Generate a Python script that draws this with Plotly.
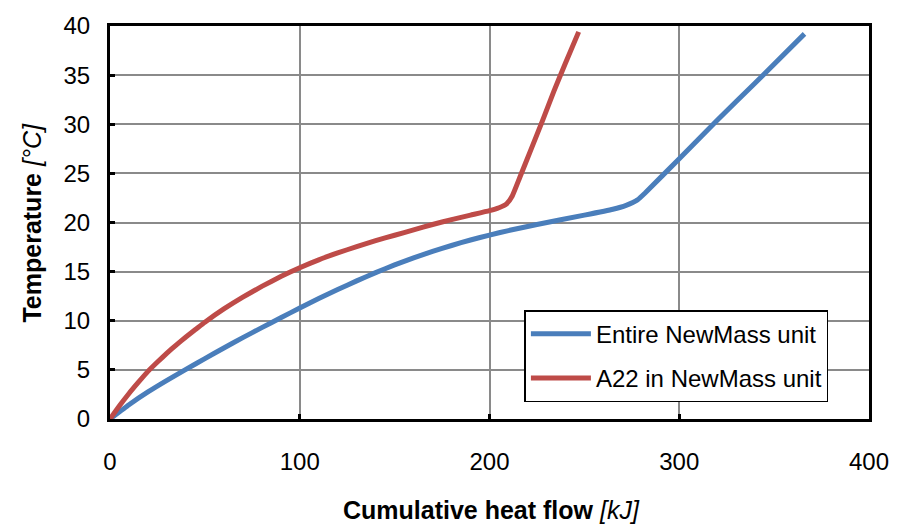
import plotly.graph_objects as go

# Entire NewMass unit (blue)
blue_x = [0, 10, 20, 30, 40, 50, 60, 70, 80, 90, 100, 110, 120, 130, 140, 150, 160, 170, 180, 190,
          200, 210, 225, 250, 265, 272, 278, 282, 300, 320, 340, 366]
blue_y = [0, 1.45, 2.75, 3.93, 5.05, 6.15, 7.23, 8.28, 9.3, 10.3, 11.3, 12.26, 13.18, 14.06, 14.9, 15.68,
          16.4, 17.06, 17.66, 18.22, 18.72, 19.18, 19.8, 20.75, 21.35, 21.75, 22.3, 23.0, 26.5, 30.4, 34.2, 39.2]

# A22 in NewMass unit (red)
red_x = [0, 5, 10, 15, 20, 25, 30, 35, 40, 45, 50, 60, 70, 80, 90, 100, 110, 120, 130, 140, 150,
         160, 170, 180, 190, 200, 205, 209, 212, 216, 222, 228, 234, 240, 247]
red_y = [0, 1.35, 2.6, 3.75, 4.85, 5.8, 6.7, 7.55, 8.35, 9.1, 9.85, 11.2, 12.4, 13.5, 14.5, 15.4, 16.2,
         16.9, 17.55, 18.15, 18.7, 19.25, 19.8, 20.3, 20.75, 21.2, 21.5, 21.9, 22.7, 24.6, 27.5, 30.4,
         33.4, 36.2, 39.4]

x_ticks = [0, 100, 200, 300, 400]
y_ticks = [0, 5, 10, 15, 20, 25, 30, 35, 40]

FONT = "Liberation Sans, Arial, sans-serif"

fig = go.Figure()
fig.add_trace(go.Scatter(x=blue_x, y=blue_y, mode="lines", name="Entire NewMass unit",
                         line=dict(color="#4A7EBB", width=5, shape="spline", smoothing=0.4),
                         legendgroup="a"))
fig.add_trace(go.Scatter(x=red_x, y=red_y, mode="lines", name="A22 in NewMass unit",
                         line=dict(color="#BE4B48", width=5, shape="spline", smoothing=0.4),
                         legendgroup="b"))

fig.update_layout(
    width=901, height=527,
    margin=dict(l=110, r=23, t=18, b=108),
    paper_bgcolor="white", plot_bgcolor="white",
    font=dict(family=FONT, size=24, color="black"),
    showlegend=True,
    legend=dict(x=0.546, y=0.277, xanchor="left", yanchor="top",
                bordercolor="black", borderwidth=1.5, bgcolor="white",
                font=dict(size=24), tracegroupgap=10, itemwidth=60,
                traceorder="grouped"),
    xaxis=dict(range=[0, 400], tickvals=x_ticks, showgrid=True, gridcolor="#8a8a8a", gridwidth=1.5,
               showline=True, linecolor="black", linewidth=3, mirror=True,
               ticks="inside", ticklen=5, tickwidth=3, tickcolor="black",
               ticklabelstandoff=19, zeroline=False, fixedrange=True, tickfont=dict(size=24)),
    yaxis=dict(range=[0, 40], tickvals=y_ticks, showgrid=True, gridcolor="#8a8a8a", gridwidth=1.5,
               showline=True, linecolor="black", linewidth=3, mirror=True,
               ticks="inside", ticklen=5, tickwidth=3, tickcolor="black",
               ticklabelstandoff=12, zeroline=False, fixedrange=True, tickfont=dict(size=24)),
    annotations=[
        dict(text="<b>Cumulative heat flow</b> <i>[kJ]</i>", xref="paper", yref="paper",
             x=0.503, y=-0.2317, xanchor="center", yanchor="middle", showarrow=False,
             font=dict(size=25)),
        dict(text="<b>Temperature</b> <i>[°C]</i>", xref="paper", yref="paper",
             x=-0.104, y=0.5, xanchor="center", yanchor="middle", showarrow=False,
             textangle=-90, font=dict(size=25)),
    ],
)

fig.write_html("out.html")
